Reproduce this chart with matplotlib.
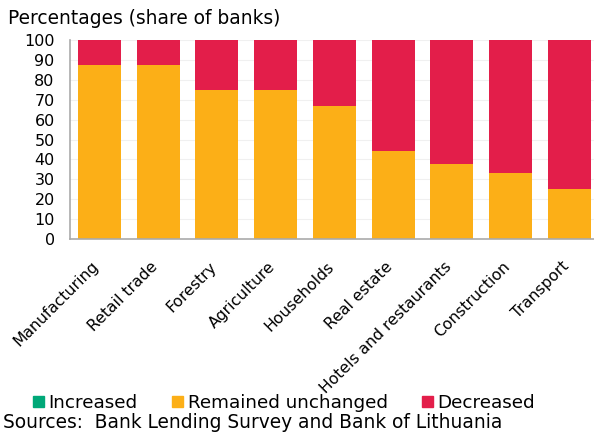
import matplotlib.pyplot as plt
from matplotlib.patches import Patch

sectors = ["Manufacturing", "Retail trade", "Forestry", "Agriculture", "Households",
           "Real estate", "Hotels and restaurants", "Construction", "Transport"]
increased = [0, 0, 0, 0, 0, 0, 0, 0, 0]
unchanged = [87.5, 87.5, 75, 75, 66.7, 44.4, 37.5, 33.3, 25]
decreased = [12.5, 12.5, 25, 25, 33.3, 55.6, 62.5, 66.7, 75]

green = "#00A878"
orange = "#FCAF17"
red = "#E31E4A"

plt.rcParams['font.family'] = ['DejaVu Sans']

W, H = 594, 434
fig = plt.figure(figsize=(W / 100, H / 100), dpi=100)
ax = fig.add_axes([70 / W, 1 - 239 / H, 1 - 70 / W, 199 / H])

x = range(len(sectors))
w = 0.73
ax.bar(x, increased, w, color=green, zorder=2)
ax.bar(x, unchanged, w, bottom=increased, color=orange, zorder=2)
bottoms = [a + b for a, b in zip(increased, unchanged)]
ax.bar(x, decreased, w, bottom=bottoms, color=red, zorder=2)

ax.set_xlim(-0.5, 8.42)
ax.set_ylim(0, 100)
ax.set_yticks(range(0, 101, 10))
ax.tick_params(axis="y", length=0, labelsize=11.5, pad=11)
ax.set_xticks([])
ax.grid(axis="y", color="#f0f0f0", linewidth=0.8, zorder=0)

for side in ["top", "right"]:
    ax.spines[side].set_visible(False)
for side in ["left", "bottom"]:
    ax.spines[side].set_color("#aaaaaa")
    ax.spines[side].set_linewidth(1.2)

# slanted category labels ending under each bar
for i, name in enumerate(sectors):
    ax.text(i - 0.05, -0.126, name, rotation=45, fontsize=11.25,
            ha="right", va="center", rotation_mode="anchor",
            transform=ax.get_xaxis_transform())

fig.text(8 / W, 1 - 19 / H, "Percentages (share of banks)", fontsize=13.4, va="center")

handles = [Patch(color=green), Patch(color=orange), Patch(color=red)]
fig.legend(handles, ["Increased", "Remained unchanged", "Decreased"],
           loc="center", bbox_to_anchor=(284 / W, 1 - 403 / H), ncol=3, frameon=False,
           fontsize=13.2, handlelength=0.6, handleheight=0.6, handletextpad=0.27,
           columnspacing=1.85)
fig.text(3 / W, 1 - 423 / H, "Sources:  Bank Lending Survey and Bank of Lithuania",
         fontsize=13.4, va="center")

fig.savefig("out.png", dpi=100)
